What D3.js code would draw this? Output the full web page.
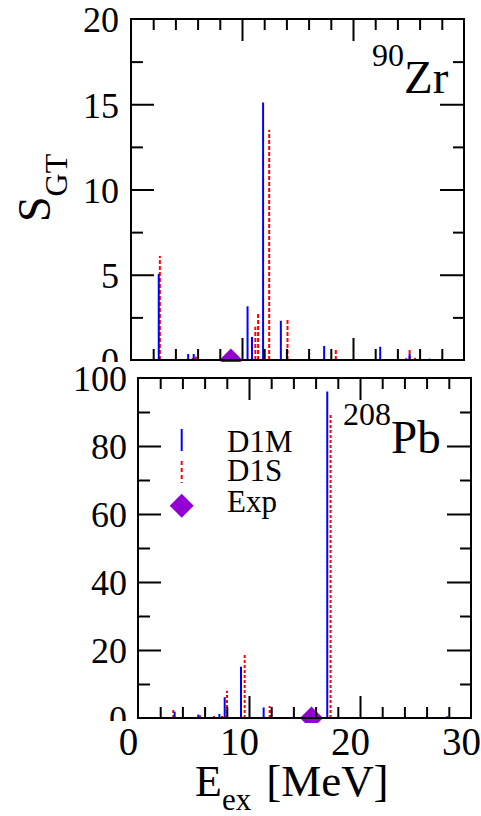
<!DOCTYPE html>
<html>
<head>
<meta charset="utf-8">
<script src="https://cdn.jsdelivr.net/npm/d3@7"></script>
<style>
  html, body { margin: 0; padding: 0; background: #fff; }
  svg { display: block; font-family: "Liberation Serif", "Times New Roman", "DejaVu Serif", serif; }
  svg text { font-family: "Liberation Serif", "Times New Roman", "DejaVu Serif", serif; fill: #000; }
</style>
</head>
<body>
<div id="chart"></div>
<script>
// ---------- DATA ----------
// 90Zr panel
const zrE_D1M = [2.5, 5.15, 5.65, 10.5, 10.9, 11.9, 13.5, 17.4, 22.45, 24.8, 25.1, 26.9];
const zrS_D1M = [5.05, 0.35, 0.35, 3.15, 1.35, 15.1, 2.3, 0.82, 0.78, 0.1, 0.35, 0.08];
const zrE_D1S = [2.6, 5.55, 5.85, 11.2, 11.45, 12.45, 14.1, 18.45, 25.1, 25.6, 28.6, 29.65];
const zrS_D1S = [6.1, 0.12, 0.2, 1.95, 2.75, 13.5, 2.35, 0.6, 0.6, 0.13, 0.06, 0.06];
const zrExpE = [9.0];
const zrExpS = [0];
// 208Pb panel
const pbE_D1M = [3.3, 5.25, 5.43, 7.33, 7.81, 9.28, 11.32, 17.05, 26.3, 27.85];
const pbS_D1M = [1.85, 0.3, 1.0, 1.2, 6.1, 15.1, 3.1, 96.0, 0.2, 0.5];
const pbE_D1S = [3.18, 5.59, 6.19, 6.45, 6.85, 7.57, 8.02, 9.61, 11.86, 12.0, 17.35, 23.0, 27.35];
const pbS_D1S = [2.35, 0.8, 0.3, 0.25, 0.6, 0.6, 8.0, 18.5, 3.5, 3.1, 89.6, 0.2, 0.15];
const pbExpE = [15.63];
const pbExpS = [0];
// Axes / labels
const xDomain = [0, 30];
const xMajorTicks = [0, 10, 20, 30];
const xMinorTicks = [2, 4, 6, 8, 12, 14, 16, 18, 22, 24, 26, 28];
const zrYDomain = [0, 20];
const zrYMajor = [0, 5, 10, 15, 20];
const zrYMinor = [2.5, 7.5, 12.5, 17.5];
const pbYDomain = [0, 100];
const pbYMajor = [0, 20, 40, 60, 80, 100];
const pbYMinor = [10, 30, 50, 70, 90];
const legendLabels = ["D1M", "D1S", "Exp"];

const BLUE = "#0000ff", RED = "#ff0000", PURPLE = "#9400d3";
const FONT = "Liberation Serif, Times New Roman, serif";

// ---------- SVG ----------
const W = 481, H = 816;
const svg = d3.select("#chart").append("svg").attr("width", W).attr("height", H);
svg.append("rect").attr("width", W).attr("height", H).attr("fill", "#fff");
const defs = svg.append("defs");

function zip(E, S) { return E.map((e, i) => ({ e, s: S[i] })); }

function drawPanel(g, opt) {
  const x = d3.scaleLinear().domain(xDomain).range([opt.x0, opt.x1]);
  const y = d3.scaleLinear().domain(opt.yDomain).range([opt.y1, opt.y0]);

  const cid = opt.id + "-clip";
  defs.append("clipPath").attr("id", cid).append("rect")
    .attr("x", opt.x0).attr("y", opt.y0)
    .attr("width", opt.x1 - opt.x0).attr("height", opt.clipBottom - opt.y0);
  const marks = g.append("g").attr("clip-path", `url(#${cid})`);

  // D1S (red dashed)
  marks.selectAll("line.d1s").data(zip(opt.d1sE, opt.d1sS)).join("line")
    .attr("class", "d1s")
    .attr("x1", d => x(d.e)).attr("x2", d => x(d.e))
    .attr("y1", y(0)).attr("y2", d => y(d.s))
    .attr("stroke", RED).attr("stroke-width", 2)
    .attr("stroke-dasharray", opt.dash);
  // D1M (blue solid)
  marks.selectAll("line.d1m").data(zip(opt.d1mE, opt.d1mS)).join("line")
    .attr("class", "d1m")
    .attr("x1", d => x(d.e)).attr("x2", d => x(d.e))
    .attr("y1", y(0)).attr("y2", d => y(d.s))
    .attr("stroke", BLUE).attr("stroke-width", 2);

  // inward ticks on all four sides
  const mk = (axis, tx, ty) => {
    const a = g.append("g").attr("transform", `translate(${tx},${ty})`).call(axis);
    a.select(".domain").remove();
    a.selectAll(".tick line").attr("stroke", "#000").attr("stroke-width", 2);
    a.selectAll("text").remove();
    return a;
  };
  const inner = arr => arr.filter((v, i, a) => i > 0 && i < a.length - 1);
  mk(d3.axisBottom(x).tickValues(inner(xMajorTicks)).tickSize(-22), 0, opt.y1);
  mk(d3.axisBottom(x).tickValues(xMinorTicks).tickSize(-11), 0, opt.y1);
  mk(d3.axisTop(x).tickValues(inner(xMajorTicks)).tickSize(-22), 0, opt.y0);
  mk(d3.axisTop(x).tickValues(xMinorTicks).tickSize(-11), 0, opt.y0);
  mk(d3.axisLeft(y).tickValues(inner(opt.yMajor)).tickSize(-23), opt.x0, 0);
  mk(d3.axisLeft(y).tickValues(opt.yMinor).tickSize(-12), opt.x0, 0);
  mk(d3.axisRight(y).tickValues(inner(opt.yMajor)).tickSize(-24), opt.x1, 0);
  mk(d3.axisRight(y).tickValues(opt.yMinor).tickSize(-11), opt.x1, 0);

  // frame
  g.append("rect").attr("x", opt.x0).attr("y", opt.y0)
    .attr("width", opt.x1 - opt.x0).attr("height", opt.y1 - opt.y0)
    .attr("fill", "none").attr("stroke", "#000").attr("stroke-width", 2);

  // Exp diamonds
  marks.selectAll("path.exp").data(zip(opt.expE, opt.expS)).join("path")
    .attr("class", "exp")
    .attr("d", d3.symbol().type(d3.symbolSquare).size(265))
    .attr("transform", d => `translate(${x(d.e)},${y(d.s)}) rotate(45)`)
    .attr("fill", PURPLE);

  // y tick labels
  const lid = opt.id + "-lclip";
  defs.append("clipPath").attr("id", lid).append("rect")
    .attr("x", 0).attr("y", opt.labelClipTop).attr("width", opt.x0)
    .attr("height", opt.labelClipBottom - opt.labelClipTop);
  const ya = g.append("g").attr("clip-path", `url(#${lid})`)
    .append("g").attr("transform", `translate(${opt.x0},0)`)
    .call(d3.axisLeft(y).tickValues(opt.yMajor).tickSize(0).tickPadding(opt.labelPad));
  ya.select(".domain").remove();
  ya.attr("font-family", FONT);
  ya.selectAll("text").attr("font-size", 36).attr("dy", "0.36em").attr("fill", "#000");

  return { x, y };
}

// ---------- Top panel (90Zr) ----------
const gTop = svg.append("g");
drawPanel(gTop, {
  id: "zr", x0: 131, x1: 464, y0: 19, y1: 360, clipBottom: 372,
  yDomain: zrYDomain, yMajor: zrYMajor, yMinor: zrYMinor,
  d1mE: zrE_D1M, d1mS: zrS_D1M, d1sE: zrE_D1S, d1sS: zrS_D1S,
  expE: zrExpE, expS: zrExpS, dash: "4,2",
  labelClipTop: 0, labelClipBottom: 362, labelPad: 12
});
gTop.append("text").attr("x", 372).attr("y", 66).attr("font-size", 32)
  .text("90").append("tspan").attr("font-size", 47).attr("dy", 27).text("Zr");

// background of the lower figure (covers the lower part of the upper one)
svg.append("rect").attr("x", 0).attr("y", 362).attr("width", W).attr("height", H - 362).attr("fill", "#fff");

// ---------- Bottom panel (208Pb) ----------
const gBot = svg.append("g");
drawPanel(gBot, {
  id: "pb", x0: 138, x1: 471, y0: 378, y1: 718, clipBottom: 723,
  yDomain: pbYDomain, yMajor: pbYMajor, yMinor: pbYMinor,
  d1mE: pbE_D1M, d1mS: pbS_D1M, d1sE: pbE_D1S, d1sS: pbS_D1S,
  expE: pbExpE, expS: pbExpS, dash: "3,2",
  labelClipTop: 362, labelClipBottom: 721, labelPad: 11
});
gBot.append("text").attr("x", 343).attr("y", 425).attr("font-size", 32)
  .text("208").append("tspan").attr("font-size", 47).attr("dy", 28).text("Pb");

// x tick labels
const xLab = d3.scaleLinear().domain(xDomain).range([128, 461]);
const xa = svg.append("g").attr("transform", "translate(0,718)")
  .call(d3.axisBottom(xLab).tickValues(xMajorTicks).tickSize(0).tickPadding(9));
xa.select(".domain").remove();
xa.attr("font-family", FONT);
xa.selectAll("text").attr("font-size", 39).attr("fill", "#000");

// legend
const lg = svg.append("g");
const lx = 181.7;
lg.append("line").attr("x1", lx).attr("x2", lx).attr("y1", 429).attr("y2", 451)
  .attr("stroke", BLUE).attr("stroke-width", 2);
lg.append("line").attr("x1", lx).attr("x2", lx).attr("y1", 461).attr("y2", 483)
  .attr("stroke", RED).attr("stroke-width", 2).attr("stroke-dasharray", "4,3");
lg.append("path").attr("d", d3.symbol().type(d3.symbolSquare).size(288))
  .attr("transform", `translate(${lx},505.7) rotate(45)`).attr("fill", PURPLE);
const lyBase = [451.5, 480.5, 512];
legendLabels.forEach((t, i) => {
  lg.append("text").attr("x", 227).attr("y", lyBase[i]).attr("font-size", 31).text(t);
});

// axis titles
const yt = svg.append("text").attr("transform", "translate(50,222) rotate(-90)").attr("font-size", 46);
yt.append("tspan").text("S");
yt.append("tspan").attr("font-size", 32).attr("dy", 17).text("GT");

const xt = svg.append("text").attr("x", 195).attr("y", 796).attr("font-size", 44);
xt.append("tspan").text("E");
xt.append("tspan").attr("font-size", 31).attr("dy", 14).text("ex");
xt.append("tspan").attr("dy", -14).attr("dx", 15).attr("font-size", 45).text("[MeV]");
</script>
</body>
</html>
